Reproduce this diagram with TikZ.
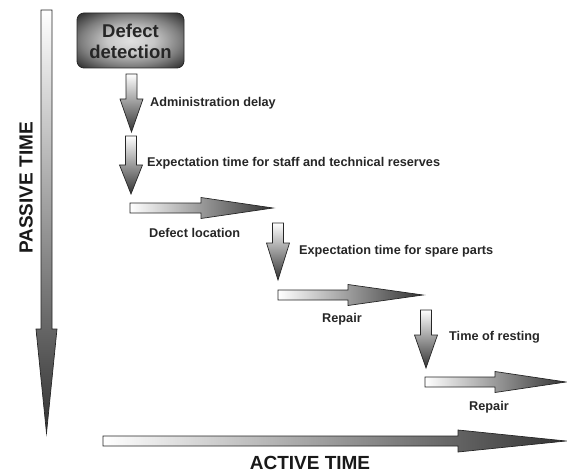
\documentclass[tikz,border=0pt]{standalone}
\usepackage{fontspec}
\setmainfont{Liberation Sans}
\pgfdeclareradialshading{boxglow}{\pgfpoint{0bp}{0bp}}{color(0bp)=(black!12); color(11bp)=(black!22); color(23bp)=(black!50); color(33bp)=(black!78); color(50bp)=(black!85)}
\begin{document}
\begin{tikzpicture}[x=1pt,y=-1pt,
    fatdown/.style={draw=black!85,line width=0.7pt,top color=white,bottom color=black!80},
    fatright/.style={draw=black!85,line width=0.7pt,left color=white,right color=black!80},
    steplabel/.style={font=\fontsize{12.7}{14}\selectfont\bfseries,text=black!85,inner sep=0pt},
    axislabel/.style={font=\fontsize{19}{22}\selectfont\bfseries,text=black!90,inner sep=0pt}]
\useasboundingbox (0,0) rectangle (567,473);
% time axes
\draw[fatdown] (41,10)--(52,10)--(52,329)--(57,329)--(46.5,433)--(36,329)--(41,329)--cycle;
\draw[fatright] (103,436)--(458,436)--(458,430)--(566,441)--(458,452)--(458,446)--(103,446)--cycle;
\node[axislabel,rotate=90] (passive) at (26,188) {PASSIVE TIME};
\node[axislabel] (active) at (310,463) {ACTIVE TIME};
% start box
\draw[rounded corners=7pt,draw=black!85,line width=0.8pt,shading=boxglow] (77,13) rectangle (184,68);
\node[font=\fontsize{18.5}{21}\selectfont\bfseries,text=black!85,align=center] (detect) at (130.5,41) {Defect\\detection};
% waiting steps (down)
\foreach \cx/\ya/\yb/\yc in {131.5/74/99/132, 131/136/165/194, 278/223/243/280, 426/310/335/368}
    \draw[fatdown] (\cx-5.5,\ya)--(\cx+5.5,\ya)--(\cx+5.5,\yb)--(\cx+11.5,\yb)--(\cx,\yc)--(\cx-11.5,\yb)--(\cx-5.5,\yb)--cycle;
% working steps (right)
\foreach \xa/\cy/\xb/\xc in {130/208/201/273, 278/295/348/423, 425/382/495/566}
    \draw[fatright] (\xa,\cy-5)--(\xb,\cy-5)--(\xb,\cy-10.5)--(\xc,\cy)--(\xb,\cy+10.5)--(\xb,\cy+5)--(\xa,\cy+5)--cycle;
\node[steplabel,anchor=west] (admin) at (150,103) {Administration delay};
\node[steplabel,anchor=west] (staff) at (147,163) {Expectation time for staff and technical reserves};
\node[steplabel,anchor=west] (locate) at (149,233) {Defect location};
\node[steplabel,anchor=west] (spare) at (299,251) {Expectation time for spare parts};
\node[steplabel] (repairA) at (342,319) {Repair};
\node[steplabel,anchor=west] (rest) at (449,337) {Time of resting};
\node[steplabel] (repairB) at (489,407) {Repair};
\end{tikzpicture}
\end{document}
